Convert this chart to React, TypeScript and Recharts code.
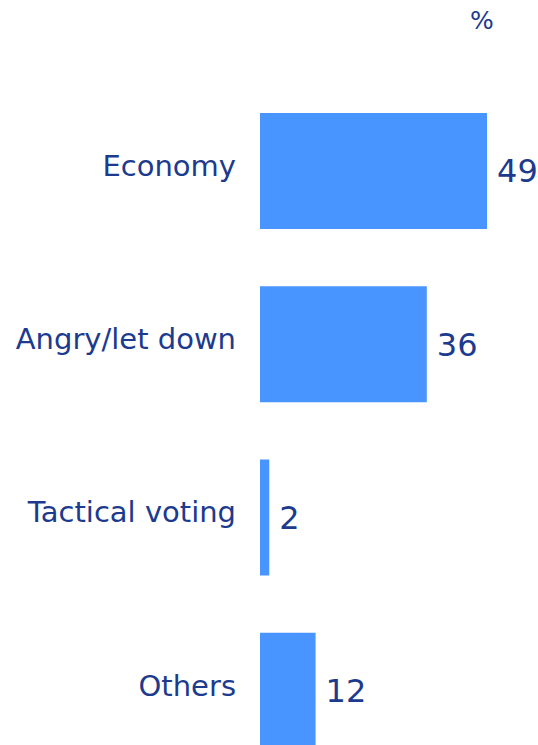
import { BarChart, Bar, XAxis, YAxis, LabelList } from 'recharts';

const categories = ['Economy', 'Angry/let down', 'Tactical voting', 'Others'];
const values = [49, 36, 2, 12];
const unitLabel = '%';

const data = categories.map((name, i) => ({ name, value: values[i] }));

const TEXT = '#1c3a8e';
const BAR = '#4895ff';
const FONT = "Tahoma, 'DejaVu Sans', sans-serif";

export default function App() {
  return (
    <div
      style={{
        position: 'absolute',
        top: 0,
        left: 0,
        width: 538,
        height: 745,
        overflow: 'hidden',
        background: '#fff',
        fontFamily: FONT,
      }}
    >
      <div
        style={{
          position: 'absolute',
          left: 470,
          top: 6,
          fontSize: 25,
          color: TEXT,
        }}
      >
        {unitLabel}
      </div>
      <BarChart
        width={538}
        height={790}
        data={data}
        layout="vertical"
        margin={{ top: 84, right: 0, bottom: 13, left: 0 }}
      >
        <XAxis type="number" domain={[0, 60]} hide />
        <YAxis
          type="category"
          dataKey="name"
          width={260}
          axisLine={false}
          tickLine={false}
          tickSize={0}
          tickMargin={24}
          tick={{ fill: TEXT, fontSize: 29, fontFamily: FONT, dy: -5 }}
        />
        <Bar dataKey="value" fill={BAR} barSize={116} isAnimationActive={false}>
          <LabelList
            dataKey="value"
            position="right"
            offset={10}
            fill={TEXT}
            fontSize={32}
            fontFamily={FONT}
          />
        </Bar>
      </BarChart>
    </div>
  );
}
